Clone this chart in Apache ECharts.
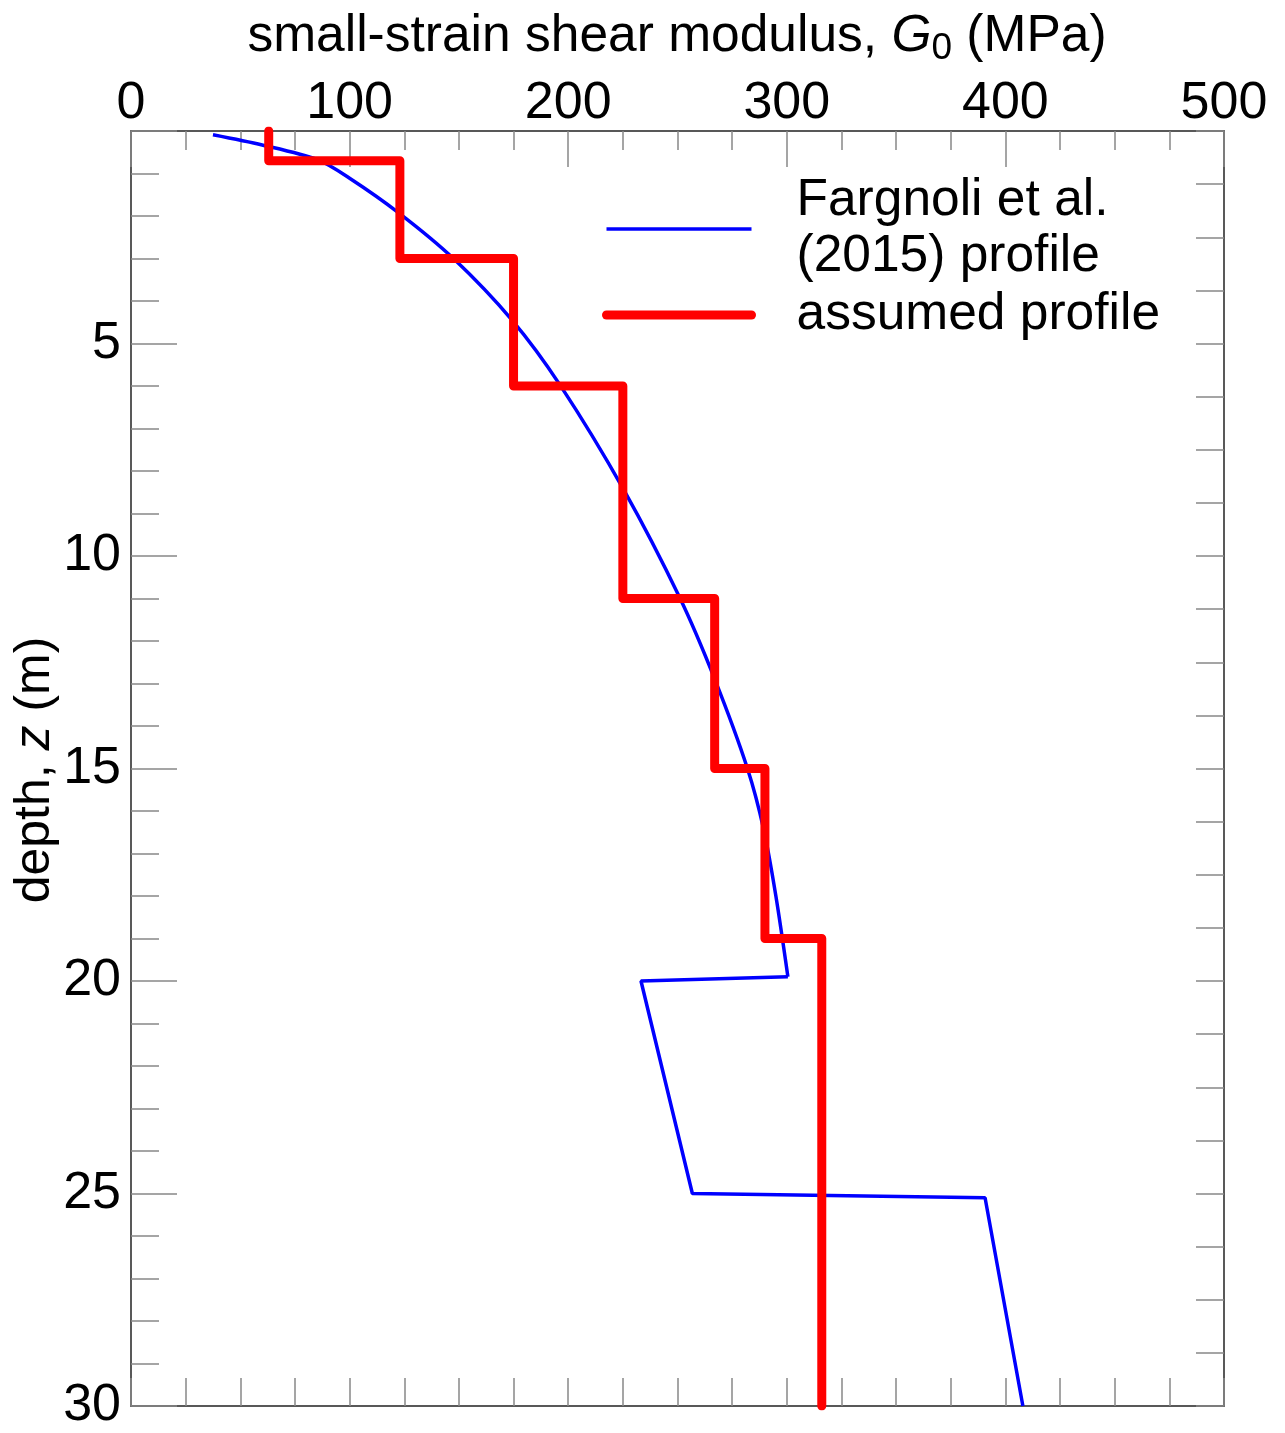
<!DOCTYPE html>
<html>
<head>
<meta charset="utf-8">
<script src="https://cdn.jsdelivr.net/npm/echarts@6/dist/echarts.min.js"></script>
<style>
  html, body { margin: 0; padding: 0; background: #fff; }
  #chart { width: 1285px; height: 1433px; }
</style>
</head>
<body>
<div id="chart"></div>
<script>
// ---- data ----
// Fargnoli et al. (2015) profile: smooth upper part
var curveG = [37.5, 60, 85.5, 100, 122.6, 147.3, 174.3, 196.3, 225.5, 251.1, 267.2, 282, 289.5, 295, 300.5];
var curveZ = [0.09, 0.33, 0.68, 1.11, 1.93, 2.99, 4.45, 5.98, 8.45, 10.99, 12.92, 15.0, 16.45, 18.0, 19.9];
// lower part (straight segments)
var lowerG = [300.5, 233.3, 256.8, 390.7, 408];
var lowerZ = [19.9, 20.0, 25.0, 25.1, 30.0];
// assumed step profile: layer tops/bottoms (m) and G0 (MPa)
var layerTop = [0, 0.7, 3, 6, 11, 15, 19];
var layerBottom = [0.7, 3, 6, 11, 15, 19, 30];
var layerG = [63, 123, 175, 225, 267, 290, 316];
var xTicks = [0, 100, 200, 300, 400, 500];
var yTicks = [0, 5, 10, 15, 20, 25, 30];

var nameFarg = 'Fargnoli et al.\n(2015) profile';
var nameAssumed = 'assumed profile';

var curveData = curveG.map(function (g, i) { return [g, curveZ[i]]; });
var lowerData = lowerG.map(function (g, i) { return [g, lowerZ[i]]; });
var stepData = [];
layerG.forEach(function (g, i) {
  stepData.push([g, layerTop[i]]);
  stepData.push([g, layerBottom[i]]);
});

var FONT = '"Liberation Sans", Arial, sans-serif';
var axisLineColor = '#222';
var tickColor = '#888';

var chart = echarts.init(document.getElementById('chart'), null, { renderer: 'canvas' });
chart.setOption({
  backgroundColor: '#fff',
  animation: false,
  textStyle: { fontFamily: FONT },
  grid: { left: 131, top: 131, right: 61, bottom: 27, containLabel: false },
  legend: {
    orient: 'vertical',
    left: 597,
    top: 168,
    itemWidth: 145,
    itemHeight: 20,
    itemGap: 2,
    selectedMode: false,
    data: [
      { name: nameFarg, itemStyle: { opacity: 0 }, lineStyle: { width: 3.5, color: '#0000ff' } },
      { name: nameAssumed, itemStyle: { opacity: 0 }, lineStyle: { width: 9, color: '#ff0000', cap: 'round' } }
    ],
    textStyle: { fontFamily: FONT, fontSize: 51.5, color: '#000', lineHeight: 56, padding: [0, 0, 0, 40] }
  },
  xAxis: [{
    type: 'value', position: 'top', min: xTicks[0], max: xTicks[xTicks.length - 1], interval: 100,
    axisLine: { show: true, onZero: false, lineStyle: { color: axisLineColor, width: 1.5 } },
    axisTick: { show: true, inside: true, length: 36, lineStyle: { color: tickColor, width: 1.5 } },
    minorTick: { show: true, splitNumber: 4, length: 19, lineStyle: { color: tickColor, width: 1.5 } },
    splitLine: { show: false },
    axisLabel: { fontFamily: FONT, fontSize: 52, color: '#000', margin: 1 }
  }, {
    type: 'value', position: 'bottom', min: 0, max: 500, interval: 25,
    axisLine: { show: true, onZero: false, lineStyle: { color: axisLineColor, width: 1.5 } },
    axisTick: { show: true, inside: true, length: 28, lineStyle: { color: tickColor, width: 1.5 } },
    splitLine: { show: false },
    axisLabel: { show: false }
  }],
  yAxis: [{
    type: 'value', position: 'left', inverse: true, min: yTicks[0], max: yTicks[yTicks.length - 1], interval: 5,
    axisLine: { show: true, onZero: false, lineStyle: { color: axisLineColor, width: 1.5 } },
    axisTick: { show: true, inside: true, length: 46, lineStyle: { color: tickColor, width: 1.5 } },
    minorTick: { show: true, splitNumber: 5, length: 28, lineStyle: { color: tickColor, width: 1.5 } },
    splitLine: { show: false },
    axisLabel: { fontFamily: FONT, fontSize: 52, color: '#000', margin: 10,
      formatter: function (v) { return v === 0 ? '' : String(v); } }
  }, {
    type: 'value', position: 'right', inverse: true, min: 0, max: 30, interval: 1.25,
    axisLine: { show: true, onZero: false, lineStyle: { color: axisLineColor, width: 1.5 } },
    axisTick: { show: true, inside: true, length: 28, lineStyle: { color: tickColor, width: 1.5 } },
    splitLine: { show: false },
    axisLabel: { show: false }
  }],
  series: [{
    name: nameFarg, type: 'line', xAxisIndex: 0, yAxisIndex: 0,
    data: curveData, smooth: 0.3, symbol: 'none',
    lineStyle: { color: '#0000ff', width: 3.5 }, itemStyle: { color: '#0000ff' }, z: 3
  }, {
    name: nameFarg, type: 'line', xAxisIndex: 0, yAxisIndex: 0,
    data: lowerData, symbol: 'none',
    lineStyle: { color: '#0000ff', width: 3.5 }, itemStyle: { color: '#0000ff' }, z: 3
  }, {
    name: nameAssumed, type: 'line', xAxisIndex: 0, yAxisIndex: 0,
    data: stepData, symbol: 'none',
    lineStyle: { color: '#ff0000', width: 9, cap: 'round', join: 'round' }, itemStyle: { color: '#ff0000' }, z: 4
  }],
  graphic: [{
    type: 'text', x: 677, y: 6,
    style: {
      text: 'small-strain shear modulus, {i|G}{s|0} (MPa)',
      align: 'center', verticalAlign: 'top',
      fontFamily: FONT, fontSize: 51.5, fill: '#000',
      rich: {
        i: { fontFamily: FONT, fontSize: 51.5, fontStyle: 'italic', fill: '#000' },
        s: { fontFamily: FONT, fontSize: 37, fill: '#000', padding: [24, 0, 0, 0] }
      }
    }
  }, {
    type: 'text', x: 35, y: 770, rotation: Math.PI / 2,
    style: {
      text: 'depth, {i|z} (m)',
      align: 'center', verticalAlign: 'middle',
      fontFamily: FONT, fontSize: 50, fill: '#000',
      rich: { i: { fontFamily: FONT, fontSize: 50, fontStyle: 'italic', fill: '#000' } }
    }
  }]
});
</script>
</body>
</html>
